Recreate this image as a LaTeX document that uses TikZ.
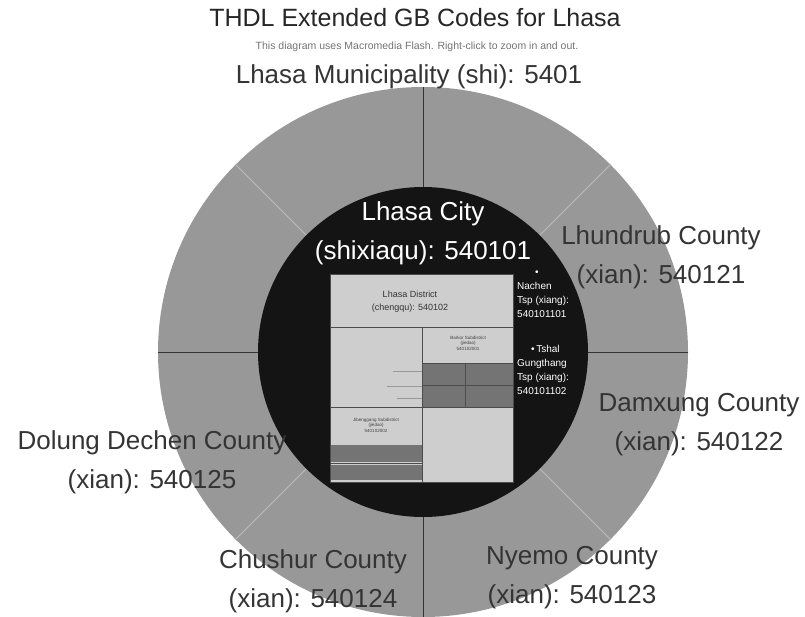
\documentclass[tikz,border=0pt]{standalone}
\usepackage{fontspec}
\setmainfont{Liberation Sans}
\usepackage{tikz}
\definecolor{ringgray}{RGB}{152,152,152}
\definecolor{spokegray}{RGB}{188,188,188}
\definecolor{citydark}{RGB}{20,20,20}
\definecolor{boxlight}{RGB}{206,206,206}
\definecolor{boxdark}{RGB}{116,116,116}
\definecolor{labelgray}{RGB}{52,52,52}

\begin{document}
\begin{tikzpicture}[x=1pt,y=-1pt,
    biglabel/.style={text=labelgray,align=center,inner sep=0pt,
        font=\fontsize{26}{39}\selectfont},
    citylabel/.style={text=white,align=center,inner sep=0pt,
        font=\fontsize{26}{39}\selectfont},
    cell/.style={draw=black!70,line width=0.6pt},
    tinytext/.style={text=black!75,align=center,inner sep=0pt,
        font=\fontsize{4.5}{5.5}\selectfont},
    towntext/.style={text=white,align=left,inner sep=0pt,anchor=north west,
        font=\fontsize{10}{14}\selectfont}
]
\useasboundingbox (0,0) rectangle (805,616);

% municipality ring with its eight sectors
\coordinate (c) at (423,352);
\fill[ringgray] (c) circle (265pt);
\foreach \a in {45,135,225,315}
    \draw[spokegray,line width=0.8pt] (c) -- ++(\a:265pt);
\draw[labelgray,line width=0.8pt] (423,87) -- (423,617);
\draw[labelgray,line width=0.8pt] (158,352) -- (688,352);

% city district disc
\fill[citydark] (c) circle (165pt);

% treemap of the city districts
\fill[boxlight] (330,274) rectangle (513,482);
\fill[boxdark] (422,363) rectangle (513,407);
\fill[boxdark] (330,445) rectangle (422,462);
\fill[boxdark] (330,465) rectangle (422,480);
\draw[cell] (330,274) rectangle (513,327);
\draw[cell] (330,327) rectangle (422,407);
\draw[cell] (422,327) rectangle (513,407);
\draw[cell] (330,407) rectangle (422,482);
\draw[cell] (422,407) rectangle (513,482);
\draw[cell] (422,363) -- (513,363);
\draw[cell] (465,363) -- (465,407);
\draw[cell] (422,385) -- (513,385);
\draw[black!40,line width=0.4pt] (393,371) -- (422,371);
\draw[black!40,line width=0.4pt] (387,386) -- (422,386);
\draw[black!40,line width=0.4pt] (397,398) -- (422,398);
\draw[cell] (330,463) -- (422,463);

\node[text=black!80,align=center,inner sep=0pt,font=\fontsize{9}{13}\selectfont]
    (lhasadist) at (410,302) {Lhasa District\\(chengqu): 540102};
\node[tinytext] (barkor) at (468,343) {Barkor Subdistrict\\(jiedao)\\540102001};
\node[tinytext] (jibeng) at (376,425) {Jibenggang Subdistrict\\(jiedao)\\540102002};

% townships beside the treemap
\begin{scope}
\clip (514,262) rectangle (578,412);
\node[towntext] (nachen) at (517,271)
    {\hspace*{18pt}\textbullet\\Nachen\\Tsp (xiang):\\540101101};
\node[towntext] (tshal) at (517,345)
    {\hspace*{14pt}\textbullet\,Tshal\\Gungthang\\Tsp (xiang):\\540101102};
\end{scope}

% titles
\node[text=black!85,inner sep=0pt,font=\fontsize{25}{30}\selectfont]
    (title) at (415,18) {THDL Extended GB Codes for Lhasa};
\node[text=black!55,inner sep=0pt,font=\fontsize{10.5}{12}\selectfont]
    (subtitle) at (417,47)
    {This diagram uses Macromedia Flash. Right-click to zoom in and out.};
\node[biglabel] (muni) at (409,77) {Lhasa Municipality (shi): 5401};

% district and county labels
\node[citylabel] (city) at (423,233) {Lhasa City\\(shixiaqu): 540101};
\node[biglabel] (lhundrub) at (661,257) {Lhundrub County\\(xian): 540121};
\node[biglabel] (damxung) at (699,425) {Damxung County\\(xian): 540122};
\node[biglabel] (nyemo) at (572,578) {Nyemo County\\(xian): 540123};
\node[biglabel] (chushur) at (313,581) {Chushur County\\(xian): 540124};
\node[biglabel] (dolung) at (152,462) {Dolung Dechen County\\(xian): 540125};

\end{tikzpicture}
\end{document}
